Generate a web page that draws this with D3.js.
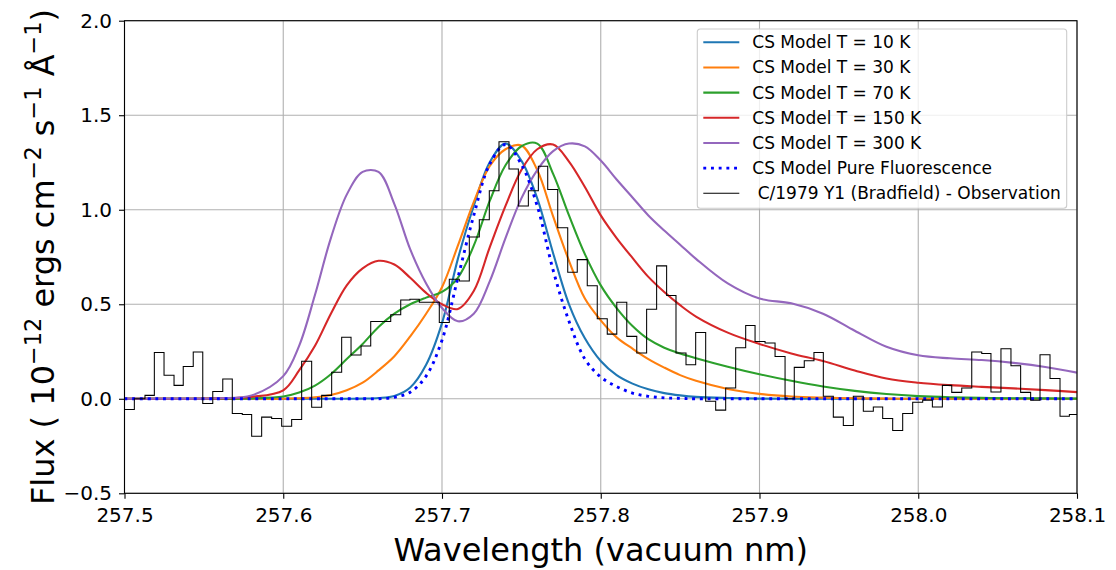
<!DOCTYPE html>
<html lang="en">
<head>
<meta charset="UTF-8">
<title>CS model spectra vs C/1979 Y1 (Bradfield)</title>
<script src="https://d3js.org/d3.v7.min.js"></script>
<style>
  body { margin: 0; background: #fff; font-family: "DejaVu Sans", sans-serif; }
  .grid line { stroke: #b0b0b0; stroke-width: 1.1px; }
  .axis text { font-family: "DejaVu Sans", sans-serif; font-size: 20px; fill: #000; }
  .axis path, .axis line { stroke: #000; stroke-width: 1.1px; }
  .legend text { font-family: "DejaVu Sans", sans-serif; font-size: 17px; white-space: pre; }
</style>
</head>
<body>
<div id="chart"></div>
<script>
// model wavelength grid (vacuum nm)
const wave = [257.50, 257.52, 257.54, 257.56, 257.58,
  257.60, 257.61, 257.62, 257.63, 257.64, 257.65, 257.66, 257.67, 257.68, 257.69,
  257.70, 257.71, 257.72, 257.73, 257.74, 257.75, 257.76, 257.77, 257.78, 257.79,
  257.80, 257.81, 257.82, 257.83, 257.84, 257.85, 257.86,
  257.88, 257.90, 257.92, 257.94, 257.96, 257.98, 258.00, 258.02, 258.04, 258.06, 258.08, 258.10];

// model fluxes
const fluxT10 = [0, 0, 0, 0, 0,
  0, 0, 0, 0, 0, 0.001, 0.004, 0.015, 0.06, 0.18,
  0.40, 0.74, 1.02, 1.25, 1.35, 1.26, 1.06, 0.77, 0.50, 0.32,
  0.20, 0.125, 0.08, 0.05, 0.03, 0.018, 0.01,
  0.004, 0.001, 0, 0, 0, 0, 0, 0, 0, 0, 0, 0];
const fluxT30 = [0, 0, 0, 0, 0,
  0, 0.003, 0.008, 0.02, 0.045, 0.085, 0.15, 0.225, 0.33, 0.45,
  0.59, 0.81, 1.04, 1.23, 1.32, 1.34, 1.21, 0.965, 0.73, 0.53,
  0.415, 0.325, 0.265, 0.21, 0.165, 0.125, 0.095,
  0.052, 0.026, 0.012, 0.006, 0.003, 0.001, 0, 0, 0, 0, 0, 0];
const fluxT70 = [0, 0, 0, 0, 0.002,
  0.012, 0.033, 0.07, 0.13, 0.21, 0.29, 0.38, 0.45, 0.50, 0.535,
  0.565, 0.64, 0.81, 1.045, 1.235, 1.336, 1.35, 1.19, 0.97, 0.765,
  0.60, 0.48, 0.385, 0.315, 0.27, 0.24, 0.215,
  0.17, 0.13, 0.095, 0.065, 0.042, 0.025, 0.014, 0.008, 0.005, 0.003, 0.002, 0.001];
const fluxT150 = [0, 0, 0, 0.002, 0.01,
  0.045, 0.15, 0.28, 0.45, 0.60, 0.69, 0.73, 0.71, 0.64, 0.56,
  0.50, 0.475, 0.57, 0.80, 1.02, 1.21, 1.32, 1.345, 1.255, 1.12,
  0.97, 0.85, 0.745, 0.645, 0.565, 0.495, 0.435,
  0.35, 0.29, 0.24, 0.20, 0.15, 0.107, 0.085, 0.072, 0.063, 0.055, 0.046, 0.035];
const fluxT300 = [0, 0, 0, 0.003, 0.018,
  0.12, 0.28, 0.55, 0.85, 1.08, 1.20, 1.20, 1.03, 0.79, 0.61,
  0.48, 0.41, 0.45, 0.62, 0.85, 1.06, 1.21, 1.31, 1.35, 1.335,
  1.26, 1.16, 1.065, 0.97, 0.89, 0.815, 0.74,
  0.61, 0.53, 0.505, 0.45, 0.36, 0.275, 0.23, 0.214, 0.205, 0.19, 0.168, 0.138];
const fluxFluor = [0, 0, 0, 0, 0,
  0, 0, 0, 0, 0, 0, 0, 0.008, 0.035, 0.12,
  0.31, 0.64, 0.97, 1.24, 1.345, 1.24, 1.02, 0.68, 0.41, 0.21,
  0.115, 0.065, 0.03, 0.013, 0.005, 0.002, 0,
  0, 0, 0, 0, 0, 0, 0, 0, 0, 0, 0, 0];

// observation: left edge of each bin (nm) and flux
const obsWave = [257.4938, 257.5062, 257.5129, 257.5188, 257.5249, 257.5312, 257.5370, 257.5433,
  257.5493, 257.5556, 257.5619, 257.5679, 257.5742, 257.5801, 257.5864, 257.5927, 257.5990,
  257.6053, 257.6116, 257.6179, 257.6242, 257.6305, 257.6368, 257.6427, 257.6490, 257.6551,
  257.6614, 257.6677, 257.6740, 257.6798, 257.6857, 257.6920, 257.6983, 257.7046, 257.7109,
  257.7172, 257.7235, 257.7298, 257.7359, 257.7422, 257.7481, 257.7544, 257.7607, 257.7666,
  257.7729, 257.7792, 257.7852, 257.7915, 257.7978, 257.8041, 257.8101, 257.8164, 257.8227,
  257.8289, 257.8352, 257.8415, 257.8474, 257.8537, 257.8598, 257.8661, 257.8724, 257.8787,
  257.8850, 257.8913, 257.8972, 257.9035, 257.9098, 257.9161, 257.9219, 257.9282, 257.9343,
  257.9402, 257.9465, 257.9528, 257.9591, 257.9654, 257.9717, 257.9776, 257.9839, 257.9902,
  257.9965, 258.0028, 258.0089, 258.0152, 258.0211, 258.0274, 258.0337, 258.0400, 258.0458,
  258.0521, 258.0584, 258.0645, 258.0708, 258.0767, 258.0830, 258.0893, 258.0952];
const obsFlux = [-0.057, 0.0, 0.018, 0.245, 0.124, 0.071, 0.171, 0.247,
  -0.025, 0.038, 0.105, -0.078, -0.083, -0.198, -0.097, -0.104, -0.145,
  -0.11, 0.198, -0.045, 0.018, 0.14, 0.326, 0.232, 0.279, 0.409,
  0.409, 0.444, 0.523, 0.527, 0.511, 0.511, 0.403, 0.632, 0.623,
  0.856, 0.947, 1.10, 1.36, 1.215, 1.02, 1.10, 1.23, 1.107,
  0.905, 0.669, 0.736, 0.598, 0.423, 0.342, 0.511, 0.33, 0.242,
  0.474, 0.703, 0.546, 0.242, 0.18, 0.351, -0.013, -0.06, 0.057,
  0.27, 0.388, 0.303, 0.295, 0.224, 0.0, 0.166, 0.201, 0.245,
  0.013, -0.097, -0.141, 0.013, -0.066, -0.043, -0.104, -0.168, -0.078,
  -0.018, -0.007, -0.043, 0.071, 0.034, 0.057, 0.247, 0.24, 0.036,
  0.265, 0.175, 0.034, -0.008, 0.233, 0.107, -0.092, -0.083];
const obsEnd = 258.1015;

const xTicks = [257.5, 257.6, 257.7, 257.8, 257.9, 258.0, 258.1];
const yTicks = [-0.5, 0.0, 0.5, 1.0, 1.5, 2.0];

const width = 1116, height = 570;
const margin = {top: 20.7, right: 39, bottom: 76.7, left: 124.5};
const iw = width - margin.left - margin.right;
const ih = height - margin.top - margin.bottom;

const svg = d3.select("#chart").append("svg")
  .attr("width", width).attr("height", height);

const x = d3.scaleLinear().domain([257.5, 258.1]).range([0, iw]);
const y = d3.scaleLinear().domain([-0.5, 2.0]).range([ih, 0]);

const g = svg.append("g").attr("transform", `translate(${margin.left},${margin.top})`);

svg.append("defs").append("clipPath").attr("id", "plot-clip")
  .append("rect").attr("width", iw).attr("height", ih);

// grid
const grid = g.append("g").attr("class", "grid");
grid.selectAll(".gx").data(xTicks).enter().append("line")
  .attr("x1", d => x(d)).attr("x2", d => x(d)).attr("y1", 0).attr("y2", ih);
grid.selectAll(".gy").data(yTicks).enter().append("line")
  .attr("x1", 0).attr("x2", iw).attr("y1", d => y(d)).attr("y2", d => y(d));

// model curves
const series = [
  {label: "CS Model T = 10 K", values: fluxT10, color: "#1f77b4"},
  {label: "CS Model T = 30 K", values: fluxT30, color: "#ff7f0e"},
  {label: "CS Model T = 70 K", values: fluxT70, color: "#2ca02c"},
  {label: "CS Model T = 150 K", values: fluxT150, color: "#d62728"},
  {label: "CS Model T = 300 K", values: fluxT300, color: "#9467bd"},
  {label: "CS Model Pure Fluorescence", values: fluxFluor, color: "#0000ff", dotted: true}
];

const line = d3.line()
  .x(d => x(d[0])).y(d => y(d[1]))
  .curve(d3.curveCatmullRom.alpha(0.5));

const plot = g.append("g").attr("clip-path", "url(#plot-clip)");

series.forEach(s => {
  plot.append("path")
    .datum(wave.map((w, i) => [w, s.values[i]]))
    .attr("fill", "none")
    .attr("stroke", s.color)
    .attr("stroke-width", s.dotted ? 2.9 : 2.1)
    .attr("stroke-dasharray", s.dotted ? "2.9,4.8" : null)
    .attr("d", line);
});

// observation as a step histogram
const obsPts = obsWave.map((w, i) => [w, obsFlux[i]]);
obsPts.push([obsEnd, obsFlux[obsFlux.length - 1]]);
plot.append("path")
  .datum(obsPts)
  .attr("fill", "none")
  .attr("stroke", "#000")
  .attr("stroke-width", 1.05)
  .attr("d", d3.line().x(d => x(d[0])).y(d => y(d[1])).curve(d3.curveStepAfter));

// axes
const xAxis = g.append("g").attr("class", "axis")
  .attr("transform", `translate(0,${ih})`)
  .call(d3.axisBottom(x).tickValues(xTicks).tickFormat(d3.format(".1f")).tickSize(5.5).tickPadding(9));
const yAxis = g.append("g").attr("class", "axis")
  .call(d3.axisLeft(y).tickValues(yTicks).tickFormat(d3.format(".1f")).tickSize(5.5).tickPadding(7));
xAxis.select(".domain").remove();
yAxis.select(".domain").remove();

// frame
g.append("rect").attr("width", iw).attr("height", ih)
  .attr("fill", "none").attr("stroke", "#000").attr("stroke-width", 1.1);

// axis labels
svg.append("text")
  .attr("x", margin.left + iw / 2).attr("y", 561)
  .attr("text-anchor", "middle")
  .style("font-family", "DejaVu Sans, sans-serif").style("font-size", "32px")
  .text("Wavelength (vacuum nm)");

const yl = svg.append("text")
  .attr("transform", `translate(54,${margin.top + ih / 2}) rotate(-90)`)
  .attr("text-anchor", "middle")
  .style("font-family", "DejaVu Sans, sans-serif").style("font-size", "32px");
const yParts = [
  ["Flux ( 10", false], ["\u221212", true], [" ergs cm", false], ["\u22122", true],
  [" s", false], ["\u22121", true], [" \u00C5", false], ["\u22121", true], [")", false]
];
yParts.forEach(([t, sup], i) => {
  const ts = yl.append("tspan").text(t).style("white-space", "pre");
  if (sup) ts.style("font-size", "22.4px").attr("dy", -13);
  else if (i > 0) ts.attr("dy", 13);
});

// legend
const lg = svg.append("g").attr("class", "legend").attr("transform", "translate(697.3,29)");
lg.append("rect").attr("width", 369.4).attr("height", 179.3).attr("rx", 3)
  .attr("fill", "#fff").attr("fill-opacity", 0.8).attr("stroke", "#cccccc").attr("stroke-width", 1.1);
const legendItems = series.concat([{label: " C/1979 Y1 (Bradfield) - Observation", color: "#000", obs: true}]);
legendItems.forEach((s, i) => {
  const row = lg.append("g").attr("transform", `translate(0,${13.3 + i * 25.17})`);
  row.append("line").attr("x1", 6).attr("x2", 42)
    .attr("stroke", s.color)
    .attr("stroke-width", s.obs ? 1.05 : (s.dotted ? 2.9 : 2.1))
    .attr("stroke-dasharray", s.dotted ? "2.9,4.8" : null);
  row.append("text").attr("x", 55).attr("dy", "0.35em").text(s.label);
});
</script>
</body>
</html>
